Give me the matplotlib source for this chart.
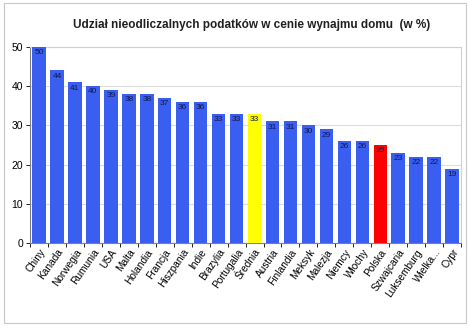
import matplotlib
matplotlib.use("Agg")
import matplotlib.pyplot as plt
import matplotlib.patches as mpatches
import numpy as np

# ── Data ─────────────────────────────────────────────────────────────────────
countries = ["Chiny", "Kanada", "Norwegia", "Rumunia", "USA", "Malta", "Holandia",
             "Francja", "Hiszpania", "Indie", "Brazylia", "Portugalia", "Średnia",
             "Austria", "Finlandia", "Meksyk", "Malezja", "Niemcy", "Włochy",
             "Polska", "Szwajcaria", "Luksemburg", "Wielka...", "Cypr"]
shares = [50, 44, 41, 40, 39, 38, 38, 37, 36, 36, 33, 33, 33,
          31, 31, 30, 29, 26, 26, 25, 23, 22, 22, 19]

highlight = {"Średnia": "#ffff00", "Polska": "#ff0000"}
base_color = "#3a5ef0"

plt.rcParams["font.family"] = ["Liberation Sans", "DejaVu Sans"]

fig = plt.figure(figsize=(4.7, 3.28), dpi=100)
fig.patch.set_facecolor("white")
fig.patches.append(mpatches.Rectangle((0.008, 0.015), 0.984, 0.975, transform=fig.transFigure,
                                      fill=False, edgecolor="#c8c8c8", linewidth=0.8))

ax = fig.add_axes([0.064, 0.259, 0.917, 0.598])
x = np.arange(len(countries))
colors = [highlight.get(c, base_color) for c in countries]
ax.bar(x, shares, width=0.75, color=colors, zorder=3)

for xi, v in zip(x, shares):
    ax.text(xi, v - 0.6, str(v), ha="center", va="top", fontsize=6,
            color="#101850", zorder=4)

ax.set_xlim(-0.5, len(countries) - 0.5)
ax.set_ylim(0, 50)
ax.set_yticks(range(0, 51, 10))
ax.tick_params(axis="y", labelsize=7.5, length=3, width=0.6, pad=2)
ax.yaxis.grid(True, color="#dcdcdc", linewidth=0.8, zorder=0)

ax.set_xticks(x)
ax.set_xticklabels(countries, rotation=55, ha="right", rotation_mode="anchor",
                   fontsize=7.3)
ax.tick_params(axis="x", length=0, pad=3)
ax.set_xticks(np.arange(-0.5, len(countries), 1), minor=True)
ax.tick_params(axis="x", which="minor", length=3, width=0.6)

for s in ["top", "right"]:
    ax.spines[s].set_color("#d0d0d0")
ax.spines["left"].set_color("#808080")
ax.spines["bottom"].set_color("#808080")

fig.text(0.535, 0.925, "Udział nieodliczalnych podatków w cenie wynajmu domu  (w %)",
         ha="center", va="center", fontsize=8.5, fontweight="bold", color="#202020")

fig.savefig("out.png", dpi=100, facecolor=fig.get_facecolor())
